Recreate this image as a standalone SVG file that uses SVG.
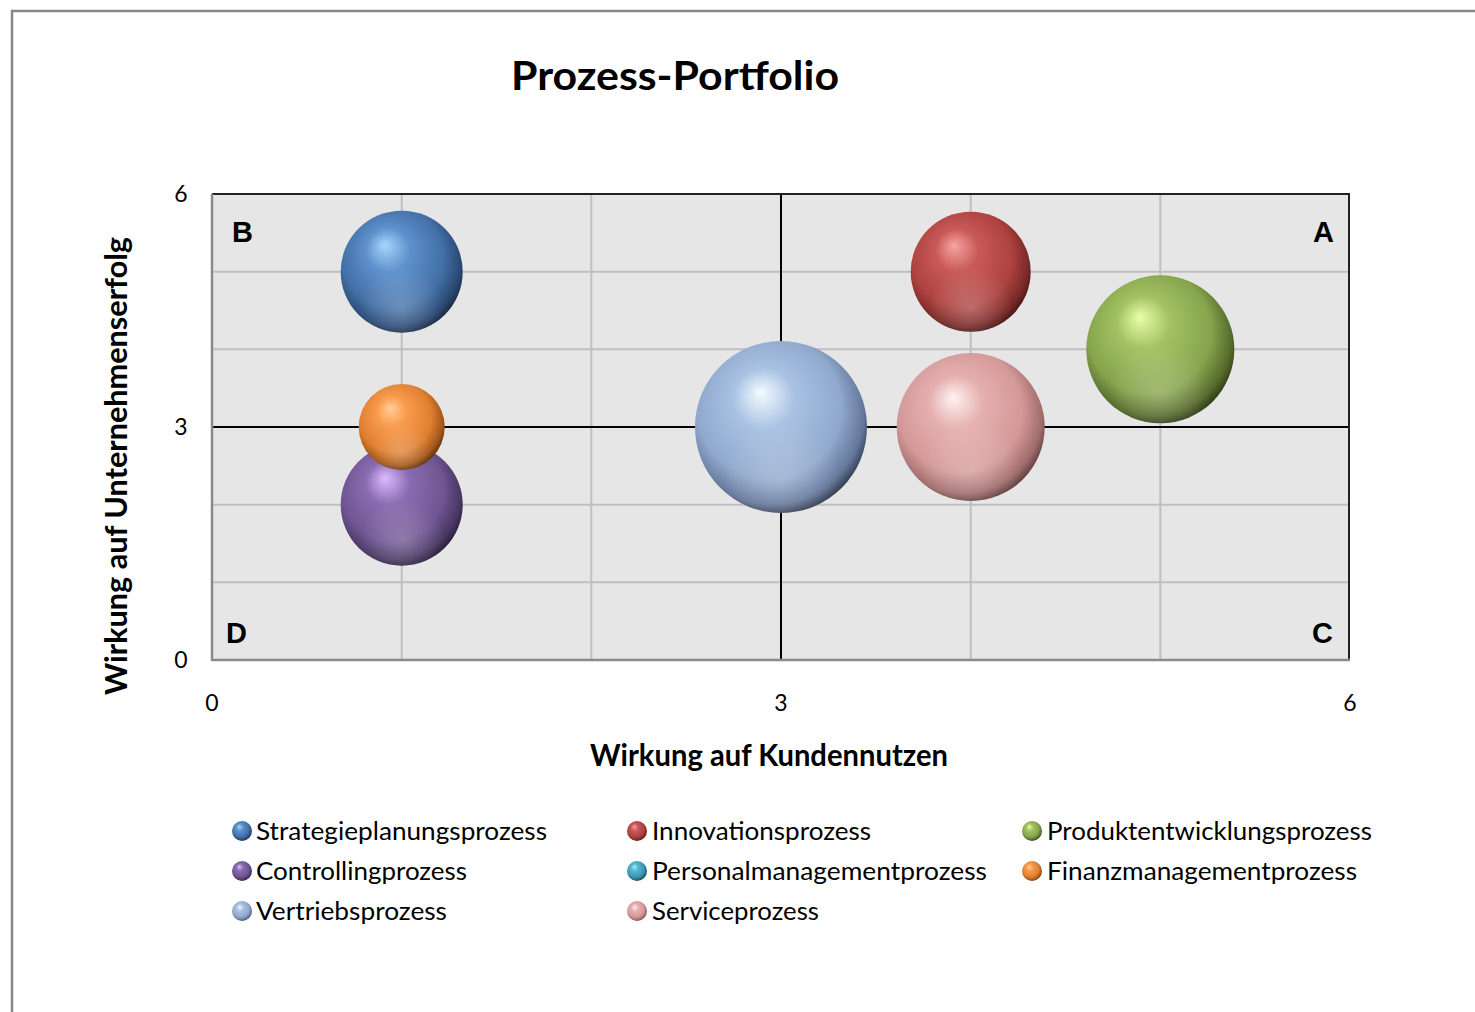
<svg xmlns="http://www.w3.org/2000/svg" width="1475" height="1012" viewBox="0 0 1475 1012">
<style>
.title{font-family:Lato,"Open Sans",sans-serif;font-weight:bold;font-size:41px;fill:#000}
.axt{font-family:Lato,"Open Sans",sans-serif;font-weight:bold;font-size:30px;fill:#000}
.tick{font-family:Lato,"Open Sans",sans-serif;font-size:23px;fill:#000;text-anchor:middle}
.quad{font-family:"Liberation Sans",Arial,sans-serif;font-weight:bold;font-size:29px;fill:#000}
.leg{font-family:Lato,"Open Sans",sans-serif;font-size:25px;fill:#000}
.grid{stroke:#bfbfbf;stroke-width:2}
.axis{stroke:#000;stroke-width:2}
</style>
<defs>
<radialGradient id="blue" cx="0.45" cy="0.42" r="0.6" fx="0.36" fy="0.28">
<stop offset="0" stop-color="#a6d6ff"/><stop offset="0.3" stop-color="#5f91cc"/><stop offset="0.7" stop-color="#426fa6"/><stop offset="0.9" stop-color="#2a4a75"/><stop offset="1" stop-color="#18283f"/></radialGradient>
<radialGradient id="red" cx="0.45" cy="0.42" r="0.6" fx="0.36" fy="0.28">
<stop offset="0" stop-color="#f7a5a3"/><stop offset="0.3" stop-color="#c85956"/><stop offset="0.7" stop-color="#ad4240"/><stop offset="0.9" stop-color="#7a2a28"/><stop offset="1" stop-color="#441514"/></radialGradient>
<radialGradient id="green" cx="0.45" cy="0.42" r="0.6" fx="0.36" fy="0.28">
<stop offset="0" stop-color="#e8ffa6"/><stop offset="0.3" stop-color="#a3c263"/><stop offset="0.7" stop-color="#86a44c"/><stop offset="0.9" stop-color="#566b2c"/><stop offset="1" stop-color="#2c3816"/></radialGradient>
<radialGradient id="purple" cx="0.45" cy="0.42" r="0.6" fx="0.36" fy="0.28">
<stop offset="0" stop-color="#dcbcff"/><stop offset="0.3" stop-color="#8a6cb0"/><stop offset="0.7" stop-color="#6f5592"/><stop offset="0.9" stop-color="#4a3764"/><stop offset="1" stop-color="#271c36"/></radialGradient>
<radialGradient id="teal" cx="0.45" cy="0.42" r="0.6" fx="0.36" fy="0.28">
<stop offset="0" stop-color="#aef0ff"/><stop offset="0.3" stop-color="#55b6d0"/><stop offset="0.7" stop-color="#3e9ab3"/><stop offset="0.9" stop-color="#276677"/><stop offset="1" stop-color="#143640"/></radialGradient>
<radialGradient id="orange" cx="0.45" cy="0.42" r="0.6" fx="0.36" fy="0.28">
<stop offset="0" stop-color="#ffcf96"/><stop offset="0.3" stop-color="#f89a4c"/><stop offset="0.7" stop-color="#e07f30"/><stop offset="0.9" stop-color="#a3561a"/><stop offset="1" stop-color="#5a2d0b"/></radialGradient>
<radialGradient id="lblue" cx="0.45" cy="0.42" r="0.6" fx="0.38" fy="0.3">
<stop offset="0" stop-color="#f2fcff"/><stop offset="0.3" stop-color="#a9c1e3"/><stop offset="0.7" stop-color="#8fa8cc"/><stop offset="0.9" stop-color="#64779a"/><stop offset="1" stop-color="#2e3748"/></radialGradient>
<radialGradient id="pink" cx="0.45" cy="0.42" r="0.6" fx="0.38" fy="0.3">
<stop offset="0" stop-color="#fff2f2"/><stop offset="0.3" stop-color="#e6b0b0"/><stop offset="0.7" stop-color="#d49898"/><stop offset="0.9" stop-color="#a06c6c"/><stop offset="1" stop-color="#5a3a3a"/></radialGradient>
<radialGradient id="glow" cx="0.5" cy="0.8" r="0.35">
<stop offset="0" stop-color="#ffffff" stop-opacity="0.22"/><stop offset="1" stop-color="#ffffff" stop-opacity="0"/></radialGradient>
</defs>
<rect x="0" y="0" width="1475" height="1012" fill="#fff"/>
<path d="M12 1012 V11 H1475" fill="none" stroke="#878787" stroke-width="2.5"/>
<text class="title" x="675" y="90" text-anchor="middle" textLength="328" lengthAdjust="spacingAndGlyphs">Prozess-Portfolio</text>
<g id="plot">
<rect x="212" y="194" width="1138" height="466" fill="#e6e6e6"/>
<g class="grid">
<line x1="401.7" y1="194" x2="401.7" y2="660"/><line x1="591.3" y1="194" x2="591.3" y2="660"/><line x1="970.7" y1="194" x2="970.7" y2="660"/><line x1="1160.3" y1="194" x2="1160.3" y2="660"/>
<line x1="212" y1="271.7" x2="1350" y2="271.7"/><line x1="212" y1="349.3" x2="1350" y2="349.3"/><line x1="212" y1="504.7" x2="1350" y2="504.7"/><line x1="212" y1="582.3" x2="1350" y2="582.3"/>
</g>
<line class="axis" x1="781" y1="194" x2="781" y2="660"/>
<line class="axis" x1="212" y1="427" x2="1350" y2="427"/>
<path d="M212 194 H1349 V660" fill="none" stroke="#222" stroke-width="2"/>
<path d="M212 194 V660 H1350" fill="none" stroke="#8a8a8a" stroke-width="2.5"/>
<text class="quad" x="232" y="242">B</text>
<text class="quad" x="1334" y="242" text-anchor="end">A</text>
<text class="quad" x="226" y="643">D</text>
<text class="quad" x="1333" y="643" text-anchor="end">C</text>
</g>
<g id="connectors"></g>
<g id="strategieplanungsprozess"><circle cx="401.7" cy="271.7" r="61" fill="url(#blue)"/><circle cx="401.7" cy="271.7" r="61" fill="url(#glow)"/></g>
<g id="controllingprozess"><circle cx="401.7" cy="504.7" r="61" fill="url(#purple)"/><circle cx="401.7" cy="504.7" r="61" fill="url(#glow)"/></g>
<g id="vertriebsprozess"><circle cx="781" cy="427" r="86" fill="url(#lblue)"/><circle cx="781" cy="427" r="86" fill="url(#glow)"/></g>
<g id="innovationsprozess"><circle cx="970.7" cy="271.7" r="60" fill="url(#red)"/><circle cx="970.7" cy="271.7" r="60" fill="url(#glow)"/></g>
<g id="serviceprozess"><circle cx="970.7" cy="427" r="74" fill="url(#pink)"/><circle cx="970.7" cy="427" r="74" fill="url(#glow)"/></g>
<g id="produktentwicklungsprozess"><circle cx="1160.3" cy="349.3" r="74" fill="url(#green)"/><circle cx="1160.3" cy="349.3" r="74" fill="url(#glow)"/></g>
<g id="finanzmanagementprozess"><circle cx="401.7" cy="427" r="43" fill="url(#orange)"/><circle cx="401.7" cy="427" r="43" fill="url(#glow)"/></g>
<g id="axes-labels">
<text class="tick" x="181" y="202">6</text>
<text class="tick" x="181" y="435">3</text>
<text class="tick" x="181" y="668">0</text>
<text class="tick" x="212" y="711">0</text>
<text class="tick" x="781" y="711">3</text>
<text class="tick" x="1350" y="711">6</text>
<text class="axt" x="769" y="766" text-anchor="middle" textLength="358" lengthAdjust="spacingAndGlyphs">Wirkung auf Kundennutzen</text>
<text class="axt" transform="translate(127 466) rotate(-90)" text-anchor="middle" textLength="458" lengthAdjust="spacingAndGlyphs">Wirkung auf Unternehmenserfolg</text>
</g>
<g id="legend">
<circle cx="242" cy="831" r="10" fill="url(#blue)"/><text class="leg" x="256" y="840" textLength="291" lengthAdjust="spacingAndGlyphs">Strategieplanungsprozess</text>
<circle cx="637" cy="831" r="10" fill="url(#red)"/><text class="leg" x="652" y="840" textLength="219" lengthAdjust="spacingAndGlyphs">Innovationsprozess</text>
<circle cx="1032" cy="831" r="10" fill="url(#green)"/><text class="leg" x="1047" y="840" textLength="325" lengthAdjust="spacingAndGlyphs">Produktentwicklungsprozess</text>
<circle cx="242" cy="871" r="10" fill="url(#purple)"/><text class="leg" x="256" y="880" textLength="211" lengthAdjust="spacingAndGlyphs">Controllingprozess</text>
<circle cx="637" cy="871" r="10" fill="url(#teal)"/><text class="leg" x="652" y="880" textLength="335" lengthAdjust="spacingAndGlyphs">Personalmanagementprozess</text>
<circle cx="1032" cy="871" r="10" fill="url(#orange)"/><text class="leg" x="1047" y="880" textLength="310" lengthAdjust="spacingAndGlyphs">Finanzmanagementprozess</text>
<circle cx="242" cy="911" r="10" fill="url(#lblue)"/><text class="leg" x="256" y="920" textLength="191" lengthAdjust="spacingAndGlyphs">Vertriebsprozess</text>
<circle cx="637" cy="911" r="10" fill="url(#pink)"/><text class="leg" x="652" y="920" textLength="167" lengthAdjust="spacingAndGlyphs">Serviceprozess</text>
</g>
</svg>
